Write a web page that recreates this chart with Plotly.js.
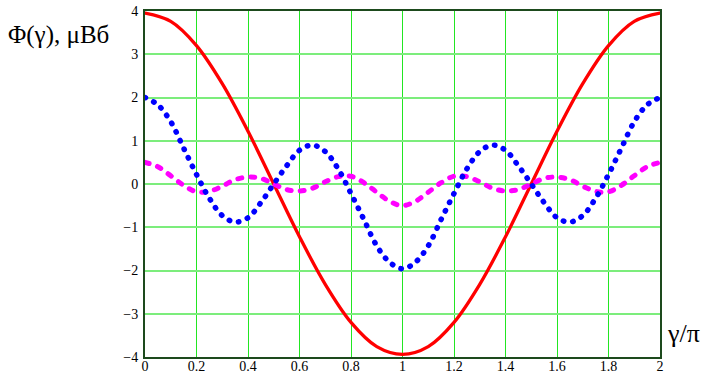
<!DOCTYPE html>
<html>
<head>
<meta charset="utf-8">
<script src="https://cdn.plot.ly/plotly-3.0.1.min.js"></script>
<style>html,body{margin:0;padding:0;background:#fff;}#chart{width:706px;height:374px;}
#chart text{font-family:"Liberation Serif","Times New Roman","DejaVu Serif",serif !important;}</style>
</head>
<body>
<div id="chart"></div>
<script>
// gamma/pi sample positions
var xRed = [0,0.1,0.2,0.3,0.4,0.5,0.6,0.7,0.8,0.9,1.0,1.1,1.2,1.3,1.4,1.5,1.6,1.7,1.8,1.9,2.0];
var redValues = [3.95,3.76,3.2,2.32,1.22,0,-1.22,-2.32,-3.2,-3.76,-3.94,-3.76,-3.2,-2.32,-1.22,0,1.22,2.32,3.2,3.76,3.95];

var xFine = [0,0.05,0.1,0.15,0.2,0.25,0.3,0.35,0.4,0.45,0.5,0.55,0.6,0.65,0.7,0.75,0.8,0.85,0.9,0.95,1.0,
             1.05,1.1,1.15,1.2,1.25,1.3,1.35,1.4,1.45,1.5,1.55,1.6,1.65,1.7,1.75,1.8,1.85,1.9,1.95,2.0];
var blueValues = [2.0,1.83,1.44,0.83,0.22,-0.33,-0.73,-0.88,-0.78,-0.43,0.0,0.42,0.78,0.9,0.75,0.35,-0.22,-0.82,-1.43,-1.81,-1.96,
                  -1.81,-1.43,-0.82,-0.22,0.35,0.75,0.9,0.78,0.42,0.0,-0.43,-0.78,-0.88,-0.73,-0.33,0.22,0.83,1.44,1.83,2.0];
var magentaValues = [0.5,0.4,0.19,-0.03,-0.18,-0.17,-0.05,0.1,0.16,0.13,0,-0.13,-0.16,-0.1,0.05,0.17,0.18,0.03,-0.19,-0.4,-0.5,
                     -0.4,-0.19,0.03,0.18,0.17,0.05,-0.1,-0.16,-0.13,0,0.13,0.16,0.1,-0.05,-0.17,-0.18,-0.03,0.19,0.4,0.5];

var xTickVals = [0,0.2,0.4,0.6,0.8,1,1.2,1.4,1.6,1.8,2];
var xTickText = ["0","0.2","0.4","0.6","0.8","1","1.2","1.4","1.6","1.8","2"];
var yTickVals = [-4,-3,-2,-1,0,1,2,3,4];
var yTickText = ["\u22124","\u22123","\u22122","\u22121","0","1","2","3","4"];

var yTitle = "\u03A6(\u03B3), \u03BC\u0412\u0431";
var xTitle = "\u03B3/\u03C0";

var font = "Liberation Serif";

var traces = [
  {x: xRed, y: redValues, mode: "lines", line: {color: "#ff0000", width: 3.3, shape: "spline"}, hoverinfo: "skip"},
  {x: xFine, y: magentaValues, mode: "lines", line: {color: "#ff00ff", width: 5, shape: "spline", dash: "4px,9px"}, hoverinfo: "skip"},
  {x: xFine, y: blueValues, mode: "lines", line: {color: "#0000ff", width: 5.5, shape: "spline", dash: "0.5px,9px"}, hoverinfo: "skip"}
];

var layout = {
  width: 706, height: 374,
  margin: {l: 145, r: 46, t: 11, b: 17},
  paper_bgcolor: "#ffffff", plot_bgcolor: "#ffffff",
  showlegend: false,
  font: {family: font, size: 14, color: "#000"},
  xaxis: {
    range: [0, 2], tickvals: xTickVals, ticktext: xTickText,
    showgrid: true, gridcolor: "#22e622", gridwidth: 1,
    zeroline: false, showline: true, linecolor: "#1d4a1d", linewidth: 2, mirror: true,
    ticks: "", ticklabelstandoff: -5, tickfont: {family: font, size: 14, color: "#000"}
  },
  yaxis: {
    range: [-4, 4], tickvals: yTickVals, ticktext: yTickText,
    showgrid: true, gridcolor: "#7ced7c", gridwidth: 2,
    zeroline: false, showline: true, linecolor: "#1d4a1d", linewidth: 2, mirror: true,
    ticks: "", ticklabelstandoff: 2, tickfont: {family: font, size: 14, color: "#000"}
  },
  annotations: [
    {text: yTitle, xref: "paper", yref: "paper", x: -0.27, y: 0.93, xanchor: "left", yanchor: "middle",
     showarrow: false, font: {family: font, size: 25, color: "#000"}},
    {text: xTitle, xref: "paper", yref: "paper", x: 1.0447, y: 0.069, xanchor: "center", yanchor: "middle",
     showarrow: false, font: {family: font, size: 26, color: "#000"}}
  ]
};

Plotly.newPlot("chart", traces, layout, {staticPlot: true, displayModeBar: false}).then(function(gd){
  var paths = gd.querySelectorAll(".scatterlayer .trace path.js-line");
  paths.forEach(function(p){ p.style.strokeLinecap = "round"; });
});
</script>
</body>
</html>
